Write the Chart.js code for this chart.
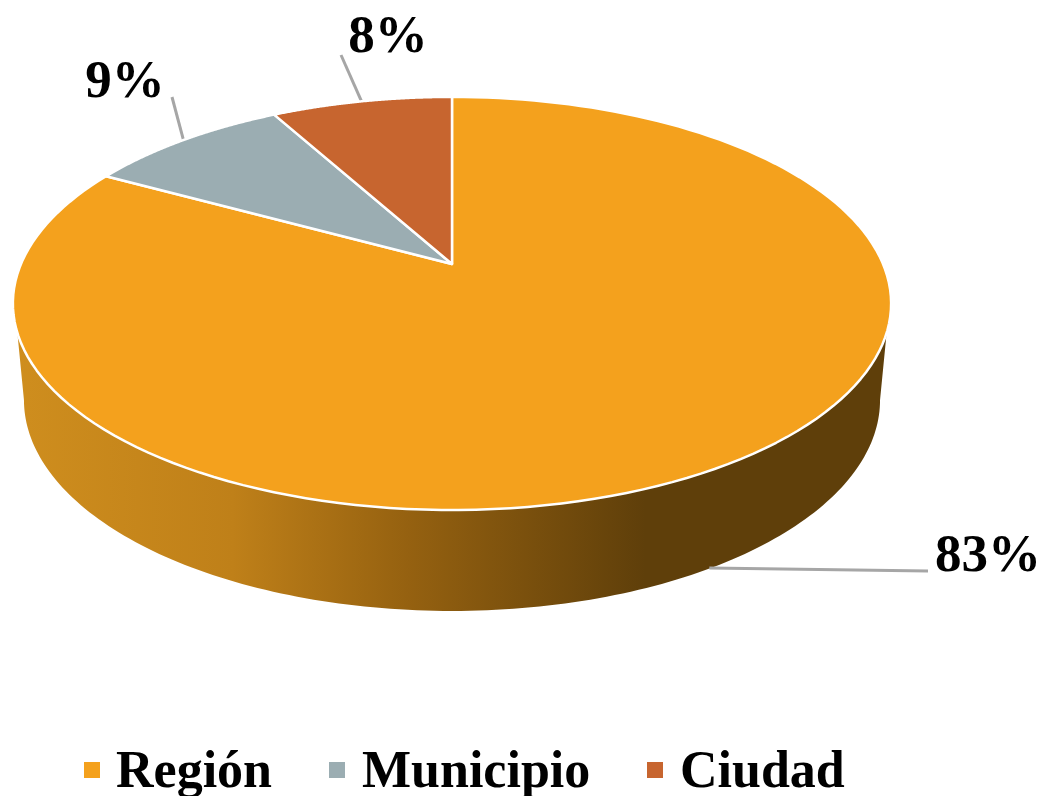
<!DOCTYPE html>
<html lang="es">
<head>
<meta charset="utf-8">
<title>Región, Municipio, Ciudad</title>
<script src="https://cdn.jsdelivr.net/npm/chart.js@4/dist/chart.umd.min.js"></script>
<style>
  html, body { margin: 0; background: #fff; }
  canvas { display: block; filter: blur(0.5px); }
</style>
</head>
<body>
<canvas id="pieChart" width="1041" height="796"></canvas>
<script>
const categories = ["Región", "Municipio", "Ciudad"]
const shares = [83, 9, 8]
const sliceColors = ["#F4A11D", "#9BADB2", "#C7652F"]

// Tilted disc: ellipse shape plus perspective, relative to the pie radius
const topFace = { scaleX: 1, scaleY: 1, tilt: 0.191, dy: 0 }
const bottomFace = { scaleX: 0.983, scaleY: 1.039, tilt: 0.142, dy: 106 }
const wallLeaderFace = { scaleX: 0.98, scaleY: 0.98, tilt: 0.191, dy: 103 }
const stretchX = 2.166

const FONT = '"Liberation Serif", "Times New Roman", serif'

// Labels: text centre, baseline and the far end of the leader line
const labelSpots = [
  { x: 988, y: 571, leaderX: 928, leaderY: 571, face: wallLeaderFace },
  { x: 125, y: 97, leaderX: 172, leaderY: 97, face: topFace },
  { x: 388, y: 52, leaderX: 341, leaderY: 55, face: topFace },
]
const legendMarkerX = [84, 329, 647]
const legendTextX = [116, 362, 680]

function project(arc, angle, face) {
  const r = arc.outerRadius
  const den = 1 - face.tilt * Math.sin(angle)
  return {
    x: arc.x + (r * stretchX * face.scaleX * Math.cos(angle)) / den,
    y: arc.y + face.dy + (r * face.scaleY * Math.sin(angle)) / den,
  }
}

function traceCurve(ctx, arc, from, to, face) {
  const steps = 160
  for (let i = 0; i <= steps; i++) {
    const p = project(arc, from + ((to - from) * i) / steps, face)
    ctx.lineTo(p.x, p.y)
  }
}

function drawWall(ctx, arc) {
  const gradient = ctx.createLinearGradient(13, 0, 891, 0)
  gradient.addColorStop(0, "#CF8E1E")
  gradient.addColorStop(0.25, "#BF8019")
  gradient.addColorStop(0.45, "#956110")
  gradient.addColorStop(0.72, "#5F3F0A")
  gradient.addColorStop(1, "#5F3F0A")

  // Silhouette leaves the top edge a bit lower than the bottom edge's widest point
  const topSide = Math.asin(0.325)
  const bottomSide = Math.asin(0.142)
  ctx.beginPath()
  traceCurve(ctx, arc, topSide, Math.PI - topSide, topFace)
  traceCurve(ctx, arc, Math.PI - bottomSide, bottomSide, bottomFace)
  ctx.closePath()
  ctx.fillStyle = gradient
  ctx.fill()
}

function drawSlice(ctx, arc) {
  ctx.beginPath()
  ctx.moveTo(arc.x, arc.y)
  traceCurve(ctx, arc, arc.startAngle, arc.endAngle, topFace)
  ctx.closePath()
  ctx.fillStyle = arc.options.backgroundColor
  ctx.fill()
  ctx.lineWidth = arc.options.borderWidth
  ctx.strokeStyle = arc.options.borderColor
  ctx.lineJoin = "round"
  ctx.stroke()
}

function drawLeaders(ctx, arcs) {
  arcs.forEach((arc, i) => {
    const spot = labelSpots[i]
    const start = project(arc, (arc.startAngle + arc.endAngle) / 2, spot.face)
    ctx.beginPath()
    ctx.moveTo(start.x, start.y)
    ctx.lineTo(spot.leaderX, spot.leaderY)
    ctx.lineWidth = 3
    ctx.strokeStyle = "#A6A6A6"
    ctx.stroke()
  })
}

function drawLabels(ctx) {
  shares.forEach((share, i) => {
    ctx.font = `bold 53px ${FONT}`
    ctx.fillStyle = "#000"
    ctx.textAlign = "center"
    ctx.textBaseline = "alphabetic"
    ctx.fillText(`${share}%`, labelSpots[i].x, labelSpots[i].y)
  })
}

function drawLegend(ctx) {
  categories.forEach((name, i) => {
    ctx.fillStyle = sliceColors[i]
    ctx.fillRect(legendMarkerX[i], 762, 16, 16)
    ctx.font = `bold 52px ${FONT}`
    ctx.fillStyle = "#000"
    ctx.textAlign = "left"
    ctx.textBaseline = "alphabetic"
    ctx.fillText(name, legendTextX[i], 787)
  })
}

const tiltedPie = {
  id: "tiltedPie",
  // Skip the flat arcs, the slices are redrawn from the same elements in perspective
  beforeDatasetDraw(chart, args) {
    const ctx = chart.ctx
    const arcs = chart.getDatasetMeta(args.index).data
    ctx.save()
    drawWall(ctx, arcs[0])
    drawLeaders(ctx, arcs)
    arcs.forEach((arc) => drawSlice(ctx, arc))
    drawLabels(ctx)
    drawLegend(ctx)
    ctx.restore()
    return false
  },
}

new Chart(document.getElementById("pieChart"), {
  type: "pie",
  data: {
    labels: categories,
    datasets: [
      {
        data: shares,
        backgroundColor: sliceColors,
        borderColor: "#FFFFFF",
        borderWidth: 2.5,
      },
    ],
  },
  options: {
    responsive: false,
    animation: false,
    radius: 199,
    layout: { padding: { left: 0, right: 137, top: 65, bottom: 333 } },
    plugins: {
      legend: { display: false },
      tooltip: { enabled: false },
    },
  },
  plugins: [tiltedPie],
})
</script>
</body>
</html>
